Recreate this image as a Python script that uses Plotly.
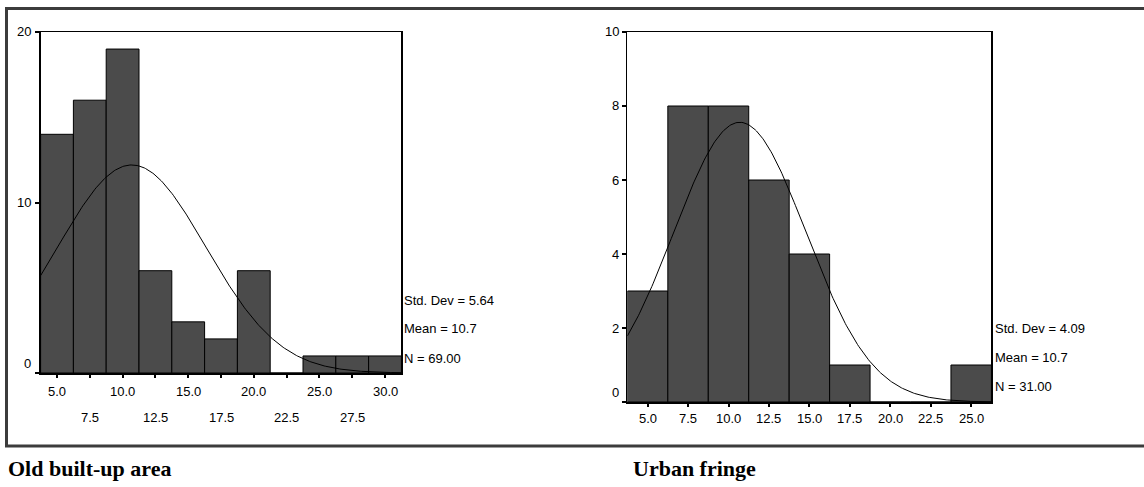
import numpy as np
import plotly.graph_objects as go

W, H = 1144, 487

# ---- data ----
left_bins = [5.0, 7.5, 10.0, 12.5, 15.0, 17.5, 20.0, 22.5, 25.0, 27.5, 30.0]
left_counts = [14, 16, 19, 6, 3, 2, 6, 0, 1, 1, 1]
left_stats = {"sd": 5.64, "mean": 10.7, "n": 69}
left_title = "Old built-up area"

right_bins = [5.0, 7.5, 10.0, 12.5, 15.0, 17.5, 20.0, 22.5, 25.0]
right_counts = [3, 8, 8, 6, 4, 1, 0, 0, 1]
right_stats = {"sd": 4.09, "mean": 10.7, "n": 31}
right_title = "Urban fringe"

bin_width = 2.5
left_yticks = [0, 10, 20]
right_yticks = [0, 2, 4, 6, 8, 10]

BAR = "#4b4b4b"
FONT = "Liberation Sans, Arial, sans-serif"
FS = 13


def px_x(p):
    return p / W


def px_y(p):
    return 1 - p / H


fig = go.Figure()


def add_panel(bins, counts, stats, xa, ya, dom_x, dom_y, xrange, yrange, yticks,
              stagger, stat_x, stat_ys, label_dy, ylab_shift):
    fig.add_trace(go.Bar(x=bins, y=counts, width=bin_width,
                         marker=dict(color=BAR, line=dict(color="black", width=1)),
                         xaxis=xa, yaxis=ya, showlegend=False, hoverinfo="skip"))
    xs = np.linspace(xrange[0], xrange[1], 300)
    sd, mu, n = stats["sd"], stats["mean"], stats["n"]
    ys = n * bin_width / (sd * np.sqrt(2 * np.pi)) * np.exp(-0.5 * ((xs - mu) / sd) ** 2)
    fig.add_trace(go.Scatter(x=xs, y=ys, mode="lines", line=dict(color="black", width=1),
                             xaxis=xa, yaxis=ya, showlegend=False, hoverinfo="skip"))
    axname = "xaxis" if xa == "x" else "xaxis" + xa[1:]
    ayname = "yaxis" if ya == "y" else "yaxis" + ya[1:]
    fig.layout[axname] = dict(domain=dom_x, range=xrange, anchor=ya, showline=True, mirror=True,
                              linecolor="black", linewidth=1.5, ticks="outside", ticklen=3, tickwidth=2,
                              tickcolor="black", tickvals=bins, showticklabels=False, showgrid=False,
                              zeroline=False, fixedrange=True)
    fig.layout[ayname] = dict(domain=dom_y, range=yrange, anchor=xa, showline=True, mirror=True,
                              linecolor="black", linewidth=1.5, ticks="outside", ticklen=4, tickwidth=2,
                              tickcolor="black", tickvals=yticks, showticklabels=False, showgrid=False,
                              zeroline=False, fixedrange=True)
    # y tick labels
    for v in yticks:
        fig.add_annotation(x=0, xref=xa + " domain", y=v, yref=ya, text=str(v), showarrow=False,
                           xanchor="right", yanchor="middle", xshift=ylab_shift,
                           yshift=(10 if v == 0 else 0),
                           font=dict(family=FONT, size=FS, color="black"))
    # x tick labels
    for i, b in enumerate(bins):
        row = (i % 2) if stagger else 0
        fig.add_annotation(x=b, xref=xa, y=0, yref=ya + " domain", text=f"{b:.1f}", showarrow=False,
                           xanchor="center", yanchor="middle", yshift=-(label_dy + row * 26),
                           font=dict(family=FONT, size=FS, color="black"))
    # stats
    lines = [f"Std. Dev = {sd:.2f}", f"Mean = {mu:.1f}", f"N = {n:.2f}"]
    for t, yy in zip(lines, stat_ys):
        fig.add_annotation(x=px_x(stat_x), xref="paper", y=px_y(yy), yref="paper", text=t,
                           showarrow=False, xanchor="left", yanchor="middle",
                           font=dict(family=FONT, size=FS, color="black"))


add_panel(left_bins, left_counts, left_stats, "x", "y",
          [px_x(40.6), px_x(401.4)], [px_y(373), px_y(32)], [3.75, 31.25], [0, 20], left_yticks,
          True, 402, [300, 328.5, 358], 18.5, -8)
add_panel(right_bins, right_counts, right_stats, "x2", "y2",
          [px_x(627.4), px_x(991.4)], [px_y(402), px_y(32)], [3.75, 26.25], [0, 10], right_yticks,
          False, 993, [328.5, 357, 386.5], 16.5, -6)

# captions
CAP_FONT = dict(family="Liberation Serif, Times New Roman, serif", size=22, color="black")
fig.add_annotation(x=px_x(6), xref="paper", y=px_y(468), yref="paper", text=f"<b>{left_title}</b>",
                   showarrow=False, xanchor="left", yanchor="middle", font=CAP_FONT)
fig.add_annotation(x=px_x(631), xref="paper", y=px_y(468), yref="paper", text=f"<b>{right_title}</b>",
                   showarrow=False, xanchor="left", yanchor="middle", font=CAP_FONT)

# outer frame
fig.add_shape(type="rect", xref="paper", yref="paper", x0=px_x(6.5), x1=1.02, y0=px_y(446), y1=px_y(8.5),
              line=dict(color="#3c3c3c", width=3), fillcolor="rgba(0,0,0,0)", layer="below")

fig.update_layout(width=W, height=H, margin=dict(l=0, r=0, t=0, b=0), paper_bgcolor="white",
                  plot_bgcolor="white", bargap=0, barmode="overlay", showlegend=False)

fig.write_html("out.html", config={"displayModeBar": False, "staticPlot": True},
               post_script="document.body.style.margin='0';document.body.style.padding='0';"
                           "document.body.style.overflow='hidden';")
